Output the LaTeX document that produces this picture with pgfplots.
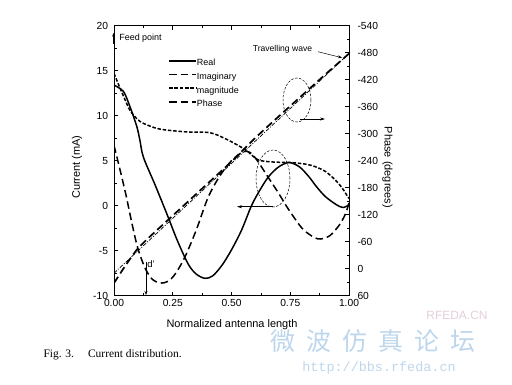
\documentclass[border=0pt]{standalone}
\usepackage{pgfplots}
\pgfplotsset{compat=1.18}
\usetikzlibrary{arrows.meta}
\usepackage{fontspec}
\setmainfont{Liberation Sans}
\newfontfamily\seriffont{Liberation Serif}
\newfontfamily\cjk{Noto Sans CJK SC}
\newfontfamily\wmmono{Liberation Mono}
\definecolor{wmblue}{RGB}{190,214,236}
\definecolor{wmpink}{RGB}{228,205,218}
\begin{document}
\begin{tikzpicture}[x=1bp,y=1bp]
\path[use as bounding box] (0,0) rectangle (512,384);
\begin{axis}[
  at={(114bp,88.3bp)}, anchor=south west, scale only axis,
  width=235bp, height=270bp,
  xmin=0, xmax=1, ymin=-10, ymax=20,
  xtick={0,0.25,0.5,0.75,1}, xticklabels={0.00,0.25,0.50,0.75,1.00},
  minor x tick num=1,
  ytick={-10,-5,0,5,10,15,20}, minor y tick num=1,
  ytick pos=left, xtick pos=both,
  tick align=inside,
  major tick length=4bp, minor tick length=2.5bp,
  tick style={black, line width=0.7bp},
  axis line style={line width=0.9bp},
  ticklabel style={font=\fontsize{10.3}{11}\selectfont},
  yticklabel style={xshift=-2.5bp},
  /pgf/number format/assume math mode=true,
  legend style={draw=none, fill=none, at={(rel axis cs:0.23,0.878)}, anchor=north west,
    font=\fontsize{9}{9}\selectfont, row sep=4.7bp, inner sep=0pt,
    nodes={inner sep=0pt, text height=7bp, text depth=2bp},
    /tikz/every even column/.append style={column sep=2bp}},
  legend cell align=left,
  legend image code/.code={\draw[#1] (0bp,2.5bp) -- (27bp,2.5bp);},
]
% Real
\addplot[black, line width=1.5bp, smooth, tension=0.5] coordinates {
(0,13.4) (0.04,12.7) (0.068,11.0) (0.097,8.8) (0.11,7.3) (0.125,5.4) (0.175,2.3)
(0.224,-0.85) (0.27,-3.9) (0.316,-6.5) (0.35,-7.6) (0.387,-8.07) (0.42,-7.8)
(0.46,-6.6) (0.5,-4.9) (0.543,-2.7) (0.585,0) (0.62,1.7) (0.657,3.2) (0.7,4.3)
(0.745,4.8) (0.79,4.3) (0.83,3.2) (0.862,2.1) (0.9,1.0) (0.947,0.1) (0.975,-0.2) (1.0,0.1)};
\addlegendentry{Real}
% Imaginary
\addplot[black, line width=1.5bp, dash pattern=on 7.5bp off 4bp, smooth, tension=0.5] coordinates {
(0,6.7) (0.02,4.6) (0.05,1.3) (0.075,-1.8) (0.1,-4.6) (0.13,-6.8) (0.16,-8.1)
(0.196,-8.6) (0.23,-8.4) (0.26,-7.6) (0.3,-5.8) (0.35,-2.7) (0.4,0.9) (0.45,3.3)
(0.5,5.0) (0.55,6.0) (0.58,5.9) (0.61,5.0) (0.65,3.4) (0.7,1.4) (0.74,-0.3)
(0.8,-2.5) (0.85,-3.5) (0.88,-3.7) (0.92,-3.3) (0.96,-2.1) (0.985,-0.9) (1.0,0.3)};
\addlegendentry{Imaginary}
% magnitude
\addplot[black, line width=1.5bp, dash pattern=on 3.5bp off 1.8bp, smooth, tension=0.5] coordinates {
(0,14.7) (0.03,12.8) (0.068,10.6) (0.1,9.6) (0.125,9.15) (0.18,8.6) (0.225,8.4)
(0.31,8.2) (0.41,8.1) (0.485,7.3) (0.56,6.2) (0.613,5.1) (0.68,4.85) (0.75,4.8)
(0.82,4.6) (0.86,4.3) (0.9,3.8) (0.94,2.9) (0.97,2.0) (0.985,1.4) (1.0,0.8)};
\addlegendentry{magnitude}
\addlegendimage{black, line width=1.7bp, dash pattern=on 7.5bp off 4bp}
\addlegendentry{Phase}
\end{axis}
\begin{axis}[
  at={(114bp,88.3bp)}, anchor=south west, scale only axis,
  width=235bp, height=270bp,
  xmin=0, xmax=1, ymin=-540, ymax=60, y dir=reverse,
  axis x line=none, axis y line*=right,
  ytick={-540,-480,-420,-360,-300,-240,-180,-120,-60,0,60},
  minor y tick num=1,
  tick align=inside,
  major tick length=4bp, minor tick length=2.5bp,
  tick style={black, line width=0.7bp},
  axis line style={line width=0.9bp},
  ticklabel style={font=\fontsize{10.3}{11}\selectfont},
  yticklabel style={xshift=5bp},
  /pgf/number format/assume math mode=true,
]
% Phase
\addplot[black, line width=1.7bp, dash pattern=on 7.5bp off 4bp, smooth, tension=0.4] coordinates {
(0,32) (0.05,-8) (0.1,-44) (0.15,-70) (0.2,-94) (0.3,-142) (0.4,-190) (0.5,-238)
(0.6,-290) (0.7,-338) (0.8,-385) (0.9,-432) (1.0,-478)};
% Travelling wave
\addplot[black, line width=0.7bp, dash pattern=on 4bp off 1.5bp on 1bp off 1.5bp] coordinates {
(0,10) (1,-478)};
\end{axis}
% axis labels
\node[font=\fontsize{11}{12}\selectfont] at (232,59) {Normalized antenna length};
\node[rotate=90, font=\fontsize{11}{12}\selectfont] at (77,217) {Current (mA)};
\node[rotate=-90, font=\fontsize{11}{12}\selectfont] at (387.5,216.5) {Phase (degrees)};
% annotations
\node[font=\fontsize{9}{9}\selectfont] at (140.5,345.7) {Feed point};
\draw[-{Stealth[length=3.5bp,width=2.5bp]}, line width=0.4bp] (113.5,340) -- (113.5,351);
\node[font=\fontsize{8.6}{9}\selectfont] at (282.5,335) {Travelling wave};
\draw[-{Stealth[length=4bp,width=3bp]}, line width=0.5bp] (318,332.3) -- (342,326.3);
\draw[dash pattern=on 2.5bp off 1.5bp, line width=0.5bp] (273,205.5) ellipse [x radius=17, y radius=28.5];
\draw[-{Stealth[length=5bp,width=3bp]}, line width=0.6bp] (273,177.3) -- (237,177.3);
\draw[dash pattern=on 2.5bp off 1.5bp, line width=0.5bp] (297,284) ellipse [x radius=14, y radius=22];
\draw[-{Stealth[length=5bp,width=3bp]}, line width=0.6bp] (300,265) -- (325,265);
\node[font=\fontsize{9.5}{9}\selectfont] at (151,120) {d'};
\draw[-{Stealth[length=4bp,width=3bp]}, line width=0.6bp] (146,122) -- (146,89);
% caption
\node[anchor=west, font=\seriffont\fontsize{11.5}{12}\selectfont] at (40,29) {Fig. 3.\hspace{14bp}Current distribution.};
% watermark
\node[text=wmpink, font=\fontsize{12}{12}\selectfont] at (457,69) {RFEDA.CN};
\node[text=wmblue, font=\cjk\fontsize{25}{26}\selectfont] at (373,43) {微\hspace{11bp}波\hspace{11bp}仿\hspace{11bp}真\hspace{11bp}论\hspace{11bp}坛};
\node[text=wmblue, font=\wmmono\fontsize{13.5}{14}\selectfont] at (379,16) {http://bbs.rfeda.cn};
\end{tikzpicture}
\end{document}
